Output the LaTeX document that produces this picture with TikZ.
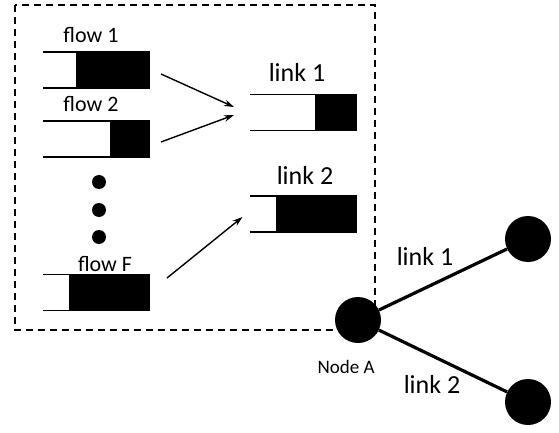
\documentclass[tikz,border=0pt]{standalone}
\usepackage{fontspec}
\setmainfont{Carlito}
\usetikzlibrary{calc,arrows.meta}
\tikzset{
  qslot/.style={minimum width=107pt, minimum height=36pt, inner sep=0pt, outer sep=0pt, draw=none},
  qline/.style={line width=1.4pt},
  arr/.style={line width=1.4pt, -{Stealth[length=10pt,width=6.5pt]}},
  lbl/.style={anchor=base, inner sep=0pt, font=\fontsize{22}{24}\selectfont},
  biglbl/.style={anchor=base, inner sep=0pt, font=\fontsize{26}{28}\selectfont},
  smalllbl/.style={anchor=base, inner sep=0pt, font=\fontsize{19}{21}\selectfont},
  router/.style={circle, fill=black, minimum size=46pt, inner sep=0pt},
  dot/.style={circle, fill=black, minimum size=14pt, inner sep=0pt},
  linkline/.style={line width=3.2pt},
  boundary/.style={line width=1.6pt, dash pattern=on 7pt off 5pt}
}
% queue: top and bottom rails, filled occupied part at the right end
\newcommand{\queue}[2]{%
  \draw[qline] (#1.north west) -- (#1.north east);
  \draw[qline] (#1.south west) -- (#1.south east);
  \fill ($(#1.north east)+(-#2,0)$) rectangle (#1.south east);
}
\begin{document}
\begin{tikzpicture}[x=1pt, y=-1pt]
\useasboundingbox (0,0) rectangle (559,433);

% switch boundary
\draw[boundary] (15,5) rectangle (375,330);

% flow queues
\node[qslot] (f1) at (96.5,70) {};
\node[qslot] (f2) at (96.5,139) {};
\node[qslot] (fF) at (96.5,292.5) {};
\queue{f1}{74}
\queue{f2}{40}
\queue{fF}{81}
\node[lbl] (tf1) at (91,43) {flow 1};
\node[lbl] (tf2) at (91,112) {flow 2};
\node[lbl] (tfF) at (105,271) {flow F};

% ellipsis dots
\node[dot] (d1) at (99,182) {};
\node[dot] (d2) at (99,210) {};
\node[dot] (d3) at (99,237) {};

% link queues
\node[qslot] (l1) at (303.5,112.5) {};
\node[qslot] (l2) at (303,214) {};
\queue{l1}{42}
\queue{l2}{81}
\node[biglbl] (tl1) at (297,82) {link 1};
\node[biglbl] (tl2) at (305,184) {link 2};

% scheduling arrows
\draw[arr] ($(f1.east)+(11,4)$) -- ($(l1.west)+(-16,-5.5)$);
\draw[arr] ($(f2.east)+(11,3)$) -- ($(l1.west)+(-16,2.5)$);
\draw[arr] ($(fF.east)+(17,-14.5)$) -- ($(l2.west)+(-7,3)$);

% network
\node[router] (A) at (358,320) {};
\node[router] (B) at (528,239) {};
\node[router] (C) at (528,402) {};
\draw[linkline] (A) -- (B);
\draw[linkline] (A) -- (C);
\node[smalllbl] (tA) at (346,373) {Node A};
\node[biglbl] (tr1) at (425,265) {link 1};
\node[biglbl] (tr2) at (432,393) {link 2};
\end{tikzpicture}
\end{document}
